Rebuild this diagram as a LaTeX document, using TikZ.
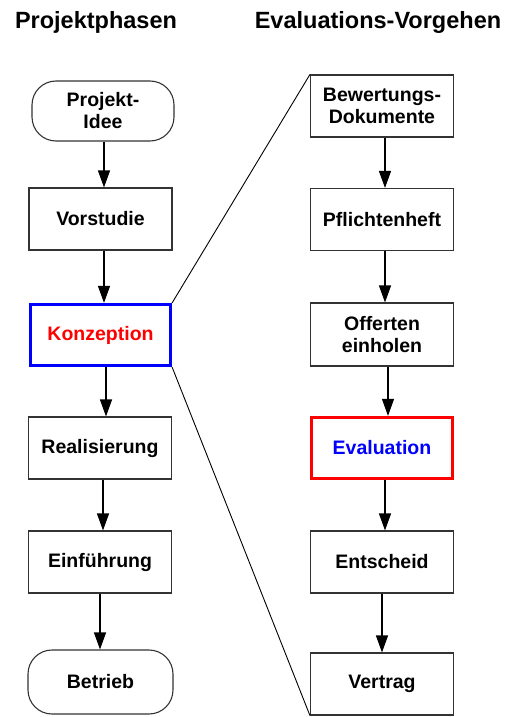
\documentclass[tikz,border=0pt]{standalone}
\usepackage{fontspec}
\setmainfont{Liberation Sans}
\usetikzlibrary{arrows.meta}
\begin{document}
\begin{tikzpicture}[x=1pt,y=-1pt,
  box/.style={draw=black!80, line width=1.1pt, minimum width=143pt, minimum height=62pt, inner sep=0pt, align=center, font=\fontsize{19.5}{22}\selectfont\bfseries},
  term/.style={box, rounded corners=24pt},
  title/.style={font=\fontsize{23.5}{28}\selectfont\bfseries, inner sep=0pt},
  arr/.style={line width=1.2pt, -{Triangle[width=12pt,length=17pt]}},
  zoomline/.style={line width=0.9pt}]
\useasboundingbox (0,0) rectangle (512,717);
\node[title] (t1) at (96,22) {Projektphasen};
\node[title] (t2) at (378,22) {Evaluations-Vorgehen};
% left column
\node[term, minimum width=142pt, minimum height=60pt] (idee) at (103,111) {Projekt-\\Idee};
\node[box] (vor) at (100.5,219) {Vorstudie};
\node[box, draw=blue, line width=3.2pt, minimum width=140pt, minimum height=61pt, text=red] (konz) at (100.5,335) {Konzeption};
\node[box] (real) at (100,448) {Realisierung};
\node[box] (einf) at (100,562) {Einführung};
\node[term, minimum width=145pt, minimum height=64pt] (betr) at (100.5,682) {Betrieb};
% right column
\node[box] (bew) at (382,106) {Bewertungs-\\Dokumente};
\node[box] (pfl) at (382,219.5) {Pflichtenheft};
\node[box, minimum height=63pt] (off) at (382,334.5) {Offerten\\einholen};
\node[box, draw=red, line width=3.2pt, minimum width=141pt, minimum height=61pt, text=blue] (eval) at (382,448) {Evaluation};
\node[box] (ents) at (382,562) {Entscheid};
\node[box] (vert) at (382,684) {Vertrag};
% arrow x positions
\coordinate (xa) at (104,0);
\coordinate (xb) at (106,0);
\coordinate (xc) at (103,0);
\coordinate (xd) at (100,0);
\coordinate (xr) at (385,0);
\coordinate (xs) at (388,0);
\coordinate (xt) at (382,0);
\draw[arr] (idee.south -| xa) -- (vor.north -| xa);
\draw[arr] (vor.south -| xa) -- (konz.north -| xa);
\draw[arr] (konz.south -| xb) -- (real.north -| xb);
\draw[arr] (real.south -| xc) -- (einf.north -| xc);
\draw[arr] (einf.south -| xd) -- (betr.north -| xd);
\draw[arr] (bew.south -| xr) -- (pfl.north -| xr);
\draw[arr] (pfl.south -| xr) -- (off.north -| xr);
\draw[arr] (off.south -| xs) -- (eval.north -| xs);
\draw[arr] (eval.south -| xr) -- (ents.north -| xr);
\draw[arr] (ents.south -| xt) -- (vert.north -| xt);
% zoom lines
\draw[zoomline] (konz.north east) -- (bew.north west);
\draw[zoomline] (konz.south east) -- (vert.south west);
\end{tikzpicture}
\end{document}
